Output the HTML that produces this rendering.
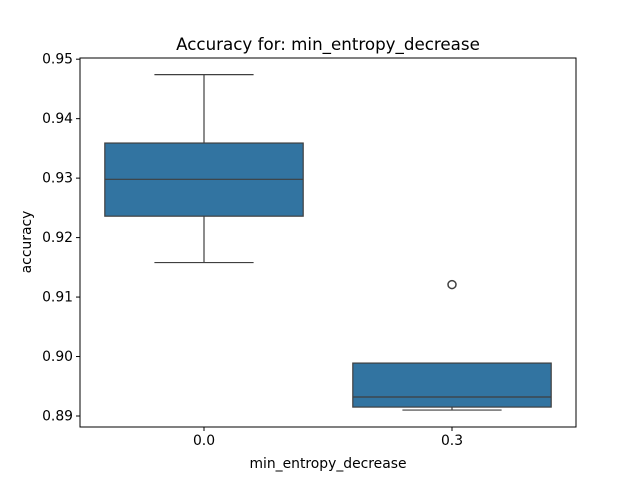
<!DOCTYPE html>
<html><head><meta charset="utf-8"><style>
body{margin:0;background:#fff;}
text{font-family:"DejaVu Sans","Liberation Sans",sans-serif;fill:#000;}
</style></head><body>
<svg id="chart" width="640" height="480" xmlns="http://www.w3.org/2000/svg">
<rect width="640" height="480" fill="#fff"/>
<text x="328" y="50" font-size="16.7" text-anchor="middle">Accuracy for: min_entropy_decrease</text>
<g id="plot"></g>
<rect x="80" y="58" width="496" height="369" fill="none" stroke="#000" stroke-width="1"/>
<text x="328" y="468" font-size="13.9" text-anchor="middle">min_entropy_decrease</text>
<text transform="translate(31,242) rotate(-90)" font-size="13.9" text-anchor="middle">accuracy</text>
</svg>
<script>
const categories=["0.0","0.3"];
const whiskerLow=[0.9158,0.8910];
const q1=[0.9236,0.8915];
const medians=[0.9298,0.8932];
const q3=[0.9359,0.8989];
const whiskerHigh=[0.9474,0.8989];
const fliers=[[],[0.9121]];
const yTicks=[0.89,0.90,0.91,0.92,0.93,0.94,0.95];
const yTickLabels=["0.89","0.90","0.91","0.92","0.93","0.94","0.95"];

const L=80,R=576,T=58,B=427,yMin=0.88815,yMax=0.9502;
const y=v=>B-(v-yMin)/(yMax-yMin)*(B-T);
const band=(R-L)/categories.length;
const x=i=>L+band*(i+0.5);
const g=document.getElementById('plot');
const NS="http://www.w3.org/2000/svg";
function mk(tag,attrs,name){const e=document.createElementNS(NS,tag);for(const k in attrs)e.setAttribute(k,attrs[k]);


g.appendChild(e);return e;}
const ec="#3f3f3f";
yTicks.forEach((t,i)=>{
  mk('line',{x1:L-4,x2:L,y1:y(t),y2:y(t),stroke:"#000"},'y-tick');
  const tx=mk('text',{x:L-7,y:y(t)+4.5,'font-size':13.9,'text-anchor':'end'},'y-tick-label');tx.textContent=yTickLabels[i];
});
categories.forEach((c,i)=>{
  const cx=x(i),bw=band*0.8,cw=bw/2;
  mk('line',{x1:cx,x2:cx,y1:y(q3[i]),y2:y(whiskerHigh[i]),stroke:ec,'stroke-width':1.2},'upper-whisker');
  mk('line',{x1:cx,x2:cx,y1:y(q1[i]),y2:y(whiskerLow[i]),stroke:ec,'stroke-width':1.2},'lower-whisker');
  mk('line',{x1:cx-cw/2,x2:cx+cw/2,y1:y(whiskerHigh[i]),y2:y(whiskerHigh[i]),stroke:ec,'stroke-width':1.2},'upper-cap');
  mk('line',{x1:cx-cw/2,x2:cx+cw/2,y1:y(whiskerLow[i]),y2:y(whiskerLow[i]),stroke:ec,'stroke-width':1.2},'lower-cap');
  mk('rect',{x:cx-bw/2,y:y(q3[i]),width:bw,height:y(q1[i])-y(q3[i]),fill:"#3274a1",stroke:ec,'stroke-width':1.2},'box-'+c);
  mk('line',{x1:cx-bw/2,x2:cx+bw/2,y1:y(medians[i]),y2:y(medians[i]),stroke:ec,'stroke-width':1.2},'median-line');
  fliers[i].forEach(f=>mk('circle',{cx:cx,cy:y(f),r:4,fill:"none",stroke:ec,'stroke-width':1.5},'outlier'));
  mk('line',{x1:cx,x2:cx,y1:B,y2:B+4,stroke:"#000"},'x-tick');
  const tx=mk('text',{x:cx,y:B+18,'font-size':13.9,'text-anchor':'middle'},'x-tick-label');tx.textContent=c;
});
</script>
</body></html>
